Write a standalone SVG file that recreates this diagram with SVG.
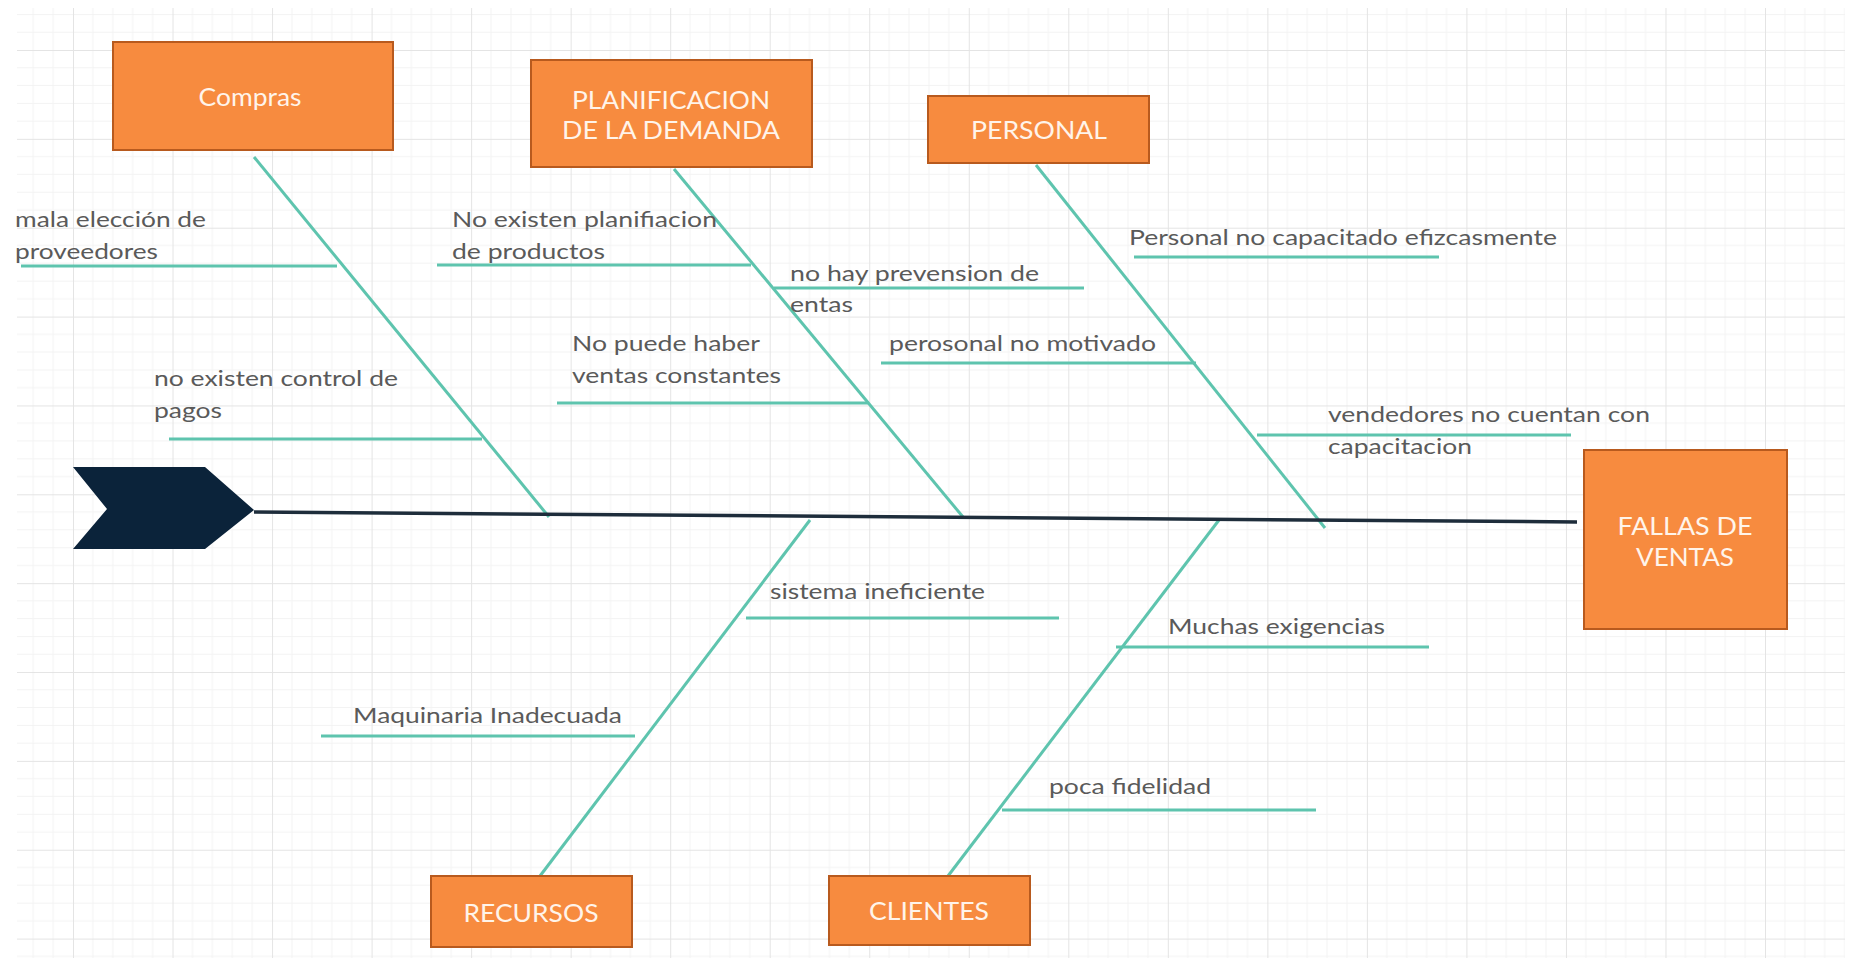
<svg xmlns="http://www.w3.org/2000/svg" width="1852" height="962" viewBox="0 0 1852 962">
<defs>
<pattern id="grid" patternUnits="userSpaceOnUse" x="73" y="50" width="99.53" height="88.86">
<g stroke="#f3f3f3" stroke-width="1">
<line x1="0" y1="17.77" x2="99.53" y2="17.77"/>
<line x1="0" y1="35.54" x2="99.53" y2="35.54"/>
<line x1="0" y1="53.32" x2="99.53" y2="53.32"/>
<line x1="0" y1="71.09" x2="99.53" y2="71.09"/>
<line x1="19.9" y1="0" x2="19.9" y2="88.86"/>
<line x1="39.8" y1="0" x2="39.8" y2="88.86"/>
<line x1="59.7" y1="0" x2="59.7" y2="88.86"/>
<line x1="79.6" y1="0" x2="79.6" y2="88.86"/>
</g>
<g stroke="#e4e4e4" stroke-width="2">
<line x1="0" y1="0" x2="99.53" y2="0"/>
<line x1="0" y1="0" x2="0" y2="88.86"/>
</g>
</pattern>
<style>
.box{fill:#f78b3f;stroke:#b85a1e;stroke-width:2}
.bt{font-family:Lato,"Liberation Sans",sans-serif;font-size:25px;fill:#fff4ea;text-anchor:middle}
.lb{font-family:Lato,"Liberation Sans",sans-serif;font-size:22px;fill:#5a5a5a}
.br{stroke:#5ec4ae;stroke-width:3;fill:none;stroke-linecap:butt}
.sb{stroke:#5ec4ae;stroke-width:3;fill:none}
</style>
</defs>
<rect x="0" y="0" width="1852" height="962" fill="#ffffff"/>
<rect x="17" y="8" width="1828" height="950" fill="url(#grid)"/>

<g id="connectors">
<line class="br" x1="254" y1="157" x2="549" y2="517"/>
<line class="br" x1="674" y1="169" x2="963" y2="517"/>
<line class="br" x1="1036" y1="165" x2="1325" y2="528"/>
<line class="br" x1="540" y1="876" x2="810" y2="520"/>
<line class="br" x1="948" y1="876" x2="1219" y2="520"/>
<line class="sb" x1="21" y1="266" x2="337" y2="266"/>
<line class="sb" x1="169" y1="439" x2="482" y2="439"/>
<line class="sb" x1="437" y1="265" x2="751" y2="265"/>
<line class="sb" x1="774" y1="288" x2="1084" y2="288"/>
<line class="sb" x1="557" y1="403" x2="869" y2="403"/>
<line class="sb" x1="1134" y1="257" x2="1439" y2="257"/>
<line class="sb" x1="881" y1="363" x2="1196" y2="363"/>
<line class="sb" x1="1257" y1="435" x2="1571" y2="435"/>
<line class="sb" x1="746" y1="618" x2="1059" y2="618"/>
<line class="sb" x1="321" y1="736" x2="635" y2="736"/>
<line class="sb" x1="1116" y1="647" x2="1429" y2="647"/>
<line class="sb" x1="1002" y1="810" x2="1316" y2="810"/>
<line x1="254" y1="512" x2="1577" y2="522" stroke="#1e2d3b" stroke-width="3.5"/>
</g>

<g id="head">
<polygon points="73,467 205,467 254,510 205,549 73,549 107,509" fill="#0b233a"/>
</g>

<g id="compras">
<rect class="box" x="113" y="42" width="280" height="108"/>
<text class="bt" x="250" y="106" textLength="103" lengthAdjust="spacingAndGlyphs">Compras</text>
</g>
<g id="planificacion">
<rect class="box" x="531" y="60" width="281" height="107"/>
<text class="bt" x="671" y="109" textLength="198" lengthAdjust="spacingAndGlyphs">PLANIFICACION</text>
<text class="bt" x="671" y="139" textLength="218" lengthAdjust="spacingAndGlyphs">DE LA DEMANDA</text>
</g>
<g id="personal">
<rect class="box" x="928" y="96" width="221" height="67"/>
<text class="bt" x="1039" y="139" textLength="136" lengthAdjust="spacingAndGlyphs">PERSONAL</text>
</g>
<g id="fallas">
<rect class="box" x="1584" y="450" width="203" height="179"/>
<text class="bt" x="1685" y="535" textLength="135" lengthAdjust="spacingAndGlyphs">FALLAS DE</text>
<text class="bt" x="1685" y="566" textLength="98" lengthAdjust="spacingAndGlyphs">VENTAS</text>
</g>
<g id="recursos">
<rect class="box" x="431" y="876" width="201" height="71"/>
<text class="bt" x="531" y="922" textLength="135" lengthAdjust="spacingAndGlyphs">RECURSOS</text>
</g>
<g id="clientes">
<rect class="box" x="829" y="876" width="201" height="69"/>
<text class="bt" x="929" y="920" textLength="120" lengthAdjust="spacingAndGlyphs">CLIENTES</text>
</g>

<g id="labels">
<text class="lb" x="15" y="227" textLength="191" lengthAdjust="spacingAndGlyphs">mala elección de</text>
<text class="lb" x="15" y="259" textLength="143" lengthAdjust="spacingAndGlyphs">proveedores</text>
<text class="lb" x="154" y="386" textLength="244" lengthAdjust="spacingAndGlyphs">no existen control de</text>
<text class="lb" x="154" y="418" textLength="68" lengthAdjust="spacingAndGlyphs">pagos</text>
<text class="lb" x="452" y="227" textLength="265" lengthAdjust="spacingAndGlyphs">No existen planifiacion</text>
<text class="lb" x="452" y="259" textLength="153" lengthAdjust="spacingAndGlyphs">de productos</text>
<text class="lb" x="790" y="281" textLength="249" lengthAdjust="spacingAndGlyphs">no hay prevension de</text>
<text class="lb" x="790" y="312" textLength="63" lengthAdjust="spacingAndGlyphs">entas</text>
<text class="lb" x="572" y="351" textLength="188" lengthAdjust="spacingAndGlyphs">No puede haber</text>
<text class="lb" x="572" y="383" textLength="209" lengthAdjust="spacingAndGlyphs">ventas constantes</text>
<text class="lb" x="1129" y="245" textLength="428" lengthAdjust="spacingAndGlyphs">Personal no capacitado efizcasmente</text>
<text class="lb" x="889" y="351" textLength="267" lengthAdjust="spacingAndGlyphs">perosonal no motivado</text>
<text class="lb" x="1328" y="422" textLength="322" lengthAdjust="spacingAndGlyphs">vendedores no cuentan con</text>
<text class="lb" x="1328" y="454" textLength="144" lengthAdjust="spacingAndGlyphs">capacitacion</text>
<text class="lb" x="770" y="599" textLength="215" lengthAdjust="spacingAndGlyphs">sistema ineficiente</text>
<text class="lb" x="353" y="723" textLength="269" lengthAdjust="spacingAndGlyphs">Maquinaria Inadecuada</text>
<text class="lb" x="1168" y="634" textLength="217" lengthAdjust="spacingAndGlyphs">Muchas exigencias</text>
<text class="lb" x="1049" y="794" textLength="162" lengthAdjust="spacingAndGlyphs">poca fidelidad</text>
</g>
</svg>
